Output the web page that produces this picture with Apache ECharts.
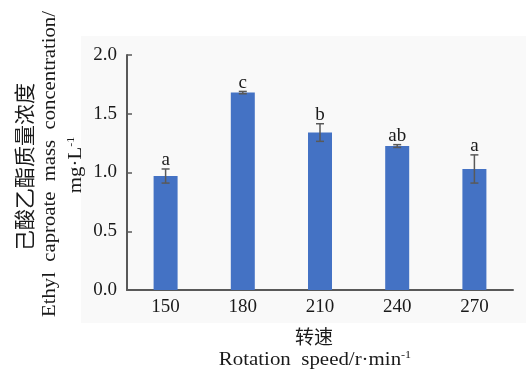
<!DOCTYPE html>
<html><head><meta charset="utf-8">
<script src="https://cdn.jsdelivr.net/npm/echarts@6/dist/echarts.min.js"></script>
<style>html,body{margin:0;padding:0;background:#fff}#c{width:526px;height:372px}</style>
</head><body><div id="c"></div>
<script>
const categories = ['150', '180', '210', '240', '270'];
const values = [0.97, 1.68, 1.34, 1.225, 1.03];
const errors = [0.06, 0.01, 0.075, 0.012, 0.12];
const letters = ['a', 'c', 'b', 'ab', 'a'];
const yTicks = [0, 0.5, 1.0, 1.5, 2.0];

const serif = '"Liberation Serif", "Times New Roman", "Noto Sans CJK SC", serif';
const cjk = '"Noto Sans CJK SC", "Liberation Serif", serif';
const axisColor = '#595959';

const chart = echarts.init(document.getElementById('c'), null, {renderer: 'canvas'});
chart.setOption({
  backgroundColor: '#ffffff',
  animation: false,
  graphic: [
    {type: 'rect', z: -10, shape: {x: 81, y: 36, width: 445, height: 287}, style: {fill: '#f9f9f9'}, silent: true},
    {type: 'text', x: 24, y: 167, rotation: Math.PI / 2,
      style: {text: '己酸乙酯质量浓度', font: '21px ' + cjk, fill: '#1a1a1a', align: 'center', verticalAlign: 'middle'}},
    {type: 'text', x: 50, y: 164, rotation: Math.PI / 2, scaleX: 1.09,
      style: {text: 'Ethyl  caproate  mass  concentration/', font: '19px ' + serif, fill: '#1a1a1a', align: 'center', verticalAlign: 'middle'}},
    {type: 'text', x: 76, y: 165, rotation: Math.PI / 2, scaleX: 1.1,
      style: {text: '{n|mg·L}{s|-1}', align: 'center', verticalAlign: 'middle',
        rich: {n: {font: '19px ' + serif, fill: '#1a1a1a', lineHeight: 20},
               s: {font: '11px ' + serif, fill: '#1a1a1a', lineHeight: 20, padding: [0, 0, 10, 0]}}}},
    {type: 'text', x: 314, y: 337,
      style: {text: '转速', font: '19px ' + cjk, fill: '#1a1a1a', align: 'center', verticalAlign: 'middle'}},
    {type: 'text', x: 315, y: 360, scaleX: 1.1,
      style: {text: '{n|Rotation  speed/r·min}{s|-1}', align: 'center', verticalAlign: 'middle',
        rich: {n: {font: '19px ' + serif, fill: '#1a1a1a', lineHeight: 20},
               s: {font: '11px ' + serif, fill: '#1a1a1a', lineHeight: 20, padding: [0, 0, 10, 0]}}}}
  ],
  grid: {left: 127, right: 13, top: 55, bottom: 82, containLabel: false},
  xAxis: {
    type: 'category', data: categories,
    axisLine: {lineStyle: {color: axisColor, width: 2}},
    axisTick: {inside: true, length: 5, alignWithLabel: false, lineStyle: {color: axisColor, width: 1.5}},
    axisLabel: {color: '#1a1a1a', fontFamily: serif, fontSize: 19, margin: 8}
  },
  yAxis: {
    type: 'value', min: yTicks[0], max: yTicks[yTicks.length - 1], interval: 0.5,
    axisLine: {show: true, lineStyle: {color: axisColor, width: 2}},
    axisTick: {show: true, inside: true, length: 5, lineStyle: {color: axisColor, width: 1.5}},
    splitLine: {show: false},
    axisLabel: {color: '#1a1a1a', fontFamily: serif, fontSize: 19, margin: 10, formatter: v => v.toFixed(1)}
  },
  series: [
    {type: 'bar', data: values, barWidth: 24, itemStyle: {color: '#4472C4'}, z: 2},
    {type: 'custom', z: 5,
      data: values.map((v, i) => [i, v, errors[i]]),
      renderItem: function (params, api) {
        const i = api.value(0), v = api.value(1), e = api.value(2);
        const top = api.coord([i, v + e]);
        const bot = api.coord([i, v - e]);
        const x = top[0], hw = 4;
        const st = {stroke: '#595959', lineWidth: 1.5};
        return {type: 'group', children: [
          {type: 'line', shape: {x1: x, y1: top[1], x2: x, y2: bot[1]}, style: st},
          {type: 'line', shape: {x1: x - hw, y1: top[1], x2: x + hw, y2: top[1]}, style: st},
          {type: 'line', shape: {x1: x - hw, y1: bot[1], x2: x + hw, y2: bot[1]}, style: st},
          {type: 'text', x: x, y: top[1] + 1, style: {text: letters[params.dataIndex], font: '19px ' + serif, fill: '#1a1a1a', align: 'center', verticalAlign: 'bottom'}}
        ]};
      }
    }
  ]
});
</script></body></html>
